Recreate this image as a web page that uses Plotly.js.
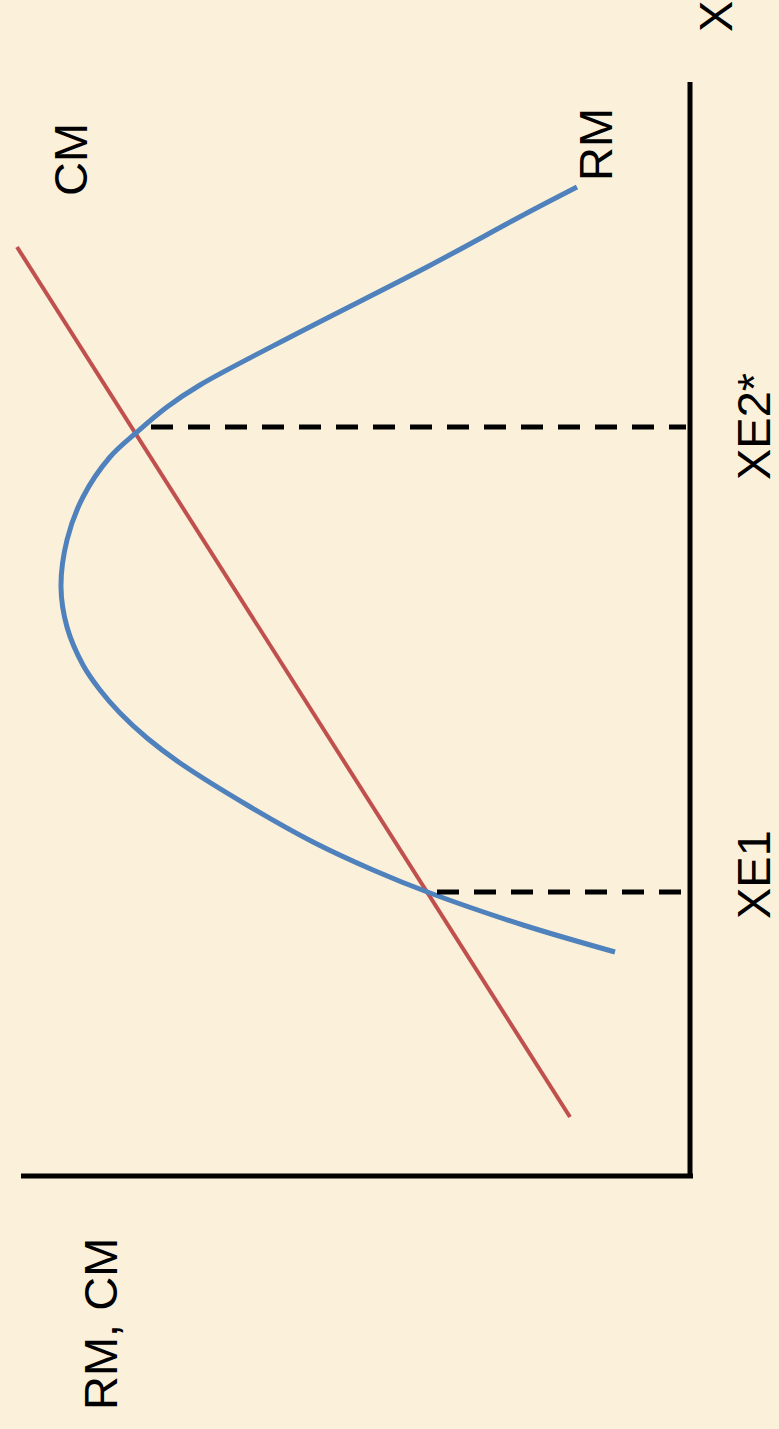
<!DOCTYPE html>
<html>
<head>
<meta charset="utf-8">
<script src="https://cdn.plot.ly/plotly-3.0.1.min.js"></script>
<style>
  html, body { margin: 0; padding: 0; background: #fbf0d9; }
  #chart { width: 779px; height: 1429px; }
</style>
</head>
<body>
<div id="chart"></div>
<script>
// chart is drawn turned a quarter turn: X runs up the page, RM/CM runs leftwards
// RM curve (X, value)
const rmX = [22.4, 25.1, 28.3, 30.6, 33.4, 37.1, 41.3, 43.8, 46.3, 48.6, 51.1, 54.9, 58.9,
             63.6, 67.9, 71.9, 74.4, 76.9, 79.1, 84.4, 90.9, 96.3, 98.9];
const rmY = [7.5, 16.7, 26.0, 31.7, 37.7, 44.3, 51.0, 54.3, 57.0, 59.0, 60.7, 62.3, 62.9,
             62.3, 60.7, 58.0, 55.3, 52.3, 49.0, 39.0, 26.3, 16.3, 11.3];

// CM straight line
const cmX = [5.9, 92.9];
const cmY = [12.0, 67.3];

// equilibrium points (X, value where the dashed line starts)
const eqNames = ['XE1', 'XE2*'];
const eqX = [28.4, 74.9];
const eqY = [25.3, 53.9];

const axisXMax = 109.4;
const axisYMax = 66.9;

const font = {family: 'Arial, "Liberation Sans", sans-serif', size: 47, color: '#000'};

const data = [
    {
        x: cmY, y: cmX,
        mode: 'lines',
        line: {color: '#c0504d', width: 4},
        type: 'scatter'
    },
    {
        x: rmY, y: rmX,
        mode: 'lines',
        line: {color: '#4f81bd', width: 5, shape: 'spline', smoothing: 1, simplify: false},
        type: 'scatter'
    }
];

const shapes = [
    {type: 'line', xref: 'x', yref: 'y', x0: 0, y0: -0.2, x1: 0, y1: axisXMax, line: {color: '#000', width: 5}},
    {type: 'line', xref: 'x', yref: 'y', x0: -0.3, y0: 0, x1: axisYMax, y1: 0, line: {color: '#000', width: 5}}
];
eqX.forEach((ex, i) => {
    shapes.push({
        type: 'line', xref: 'x', yref: 'y',
        x0: eqY[i], y0: ex, x1: 0.4, y1: ex,
        line: {color: '#000', width: 5, dash: '22px,15px'}
    });
});

const labels = [
    {text: 'X', x: -2.5, y: 115.9},
    {text: 'CM', x: 62, y: 101.6},
    {text: 'RM', x: 9.5, y: 103.1},
    {text: 'RM, CM', x: 59, y: -14.8}
];
eqX.forEach((ex, i) => labels.push({text: eqNames[i], x: -6.3, y: ex + (i === 0 ? 1.7 : 0)}));

const annotations = labels.map(l => ({
    text: l.text, x: l.x, y: l.y, xref: 'x', yref: 'y',
    showarrow: false, textangle: -90, borderpad: 0,
    xanchor: 'center', yanchor: 'middle',
    font: font
}));

const layout = {
    width: 779,
    height: 1429,
    margin: {l: 0, r: 0, t: 0, b: 0},
    paper_bgcolor: '#fbf0d9',
    plot_bgcolor: '#fbf0d9',
    showlegend: false,
    xaxis: {range: [69.0, -8.9], visible: false, fixedrange: true},
    yaxis: {range: [-25.3, 117.6], visible: false, fixedrange: true},
    shapes: shapes,
    annotations: annotations
};

Plotly.newPlot('chart', data, layout, {staticPlot: true});
</script>
</body>
</html>
